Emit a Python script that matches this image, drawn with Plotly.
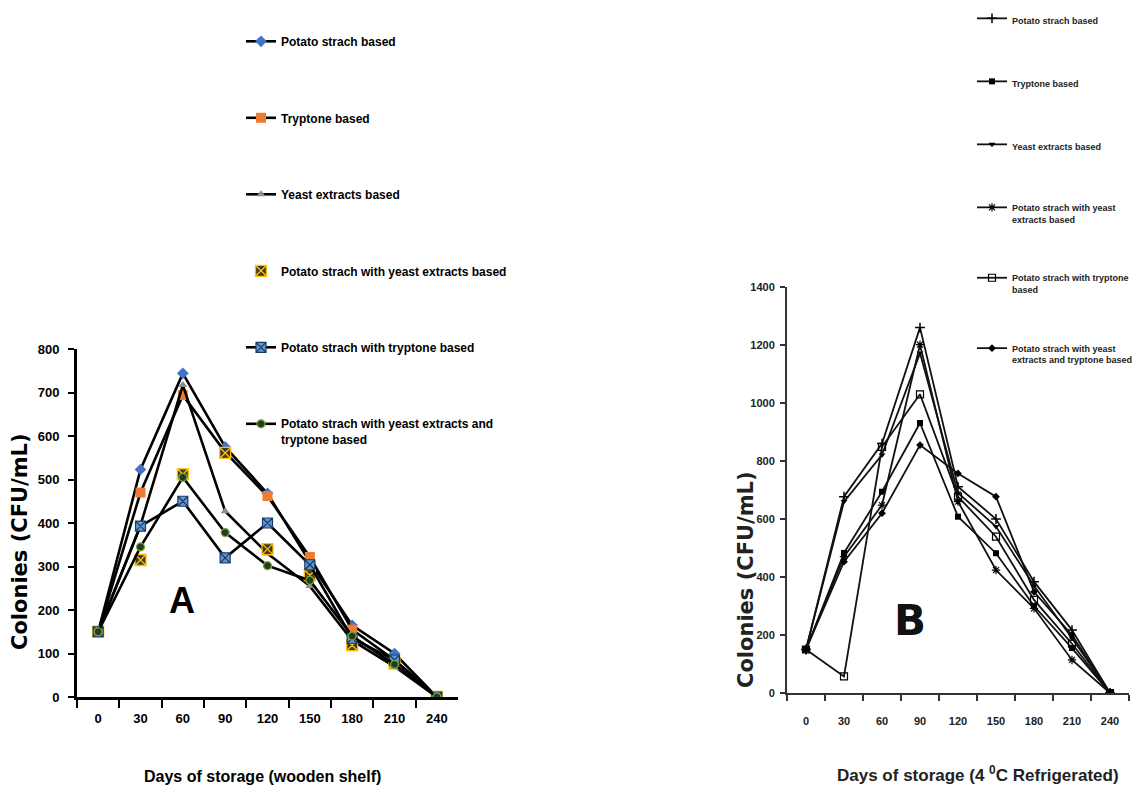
import plotly.graph_objects as go

# Figure is drawn inside the page body (8px default margin), so the figure is
# 16px smaller than the window and positions are given in window pixels.
OFF = 8
W, H = 1145 - 2 * OFF, 794 - 2 * OFF

days = ["0", "30", "60", "90", "120", "150", "180", "210", "240"]

names_a = [
    "Potato strach based",
    "Tryptone based",
    "Yeast extracts based",
    "Potato strach with yeast extracts based",
    "Potato strach with tryptone based",
    "Potato strach with yeast extracts and<br>tryptone based",
]
potato_a = [150, 523, 744, 575, 468, 310, 165, 100, 0]
tryptone_a = [150, 470, 694, 563, 462, 322, 155, 85, 0]
yeast_a = [150, 395, 717, 427, 330, 255, 130, 70, 0]
potato_yeast_a = [150, 315, 512, 561, 340, 280, 119, 77, 0]
potato_tryptone_a = [150, 393, 450, 320, 400, 304, 135, 85, 0]
potato_yeast_tryptone_a = [150, 345, 505, 378, 302, 268, 140, 75, 0]

names_b = [
    "Potato strach based",
    "Tryptone based",
    "Yeast extracts based",
    "Potato strach with yeast<br>extracts based",
    "Potato strach with tryptone<br>based",
    "Potato strach with yeast<br>extracts and tryptone based",
]
potato_b = [150, 677, 860, 1260, 711, 600, 384, 217, 0]
tryptone_b = [150, 483, 694, 931, 608, 482, 300, 155, 0]
yeast_b = [150, 660, 821, 1172, 690, 574, 370, 189, 0]
potato_yeast_b = [150, 470, 648, 1201, 660, 424, 292, 114, 0]
potato_tryptone_b = [150, 57, 849, 1030, 677, 539, 321, 170, 0]
potato_yeast_tryptone_b = [150, 453, 620, 855, 757, 677, 349, 200, 0]

y_ticks_a = [0, 100, 200, 300, 400, 500, 600, 700, 800]
y_ticks_b = [0, 200, 400, 600, 800, 1000, 1200, 1400]

NARROW = "Liberation Sans, Arial, sans-serif"
WIDE = "DejaVu Sans, Verdana, sans-serif"

fig = go.Figure()

series_a = [potato_a, tryptone_a, yeast_a, potato_yeast_a, potato_tryptone_a, potato_yeast_tryptone_a]
styles_a = [
    dict(mode="lines+markers", marker=dict(symbol="diamond", size=9, color="#4472C4", line=dict(width=0))),
    dict(mode="lines+markers", marker=dict(symbol="square", size=10, color="#ED7D31", line=dict(width=0))),
    dict(mode="lines+markers", marker=dict(symbol="triangle-up", size=8, color="#8C8C8C", line=dict(width=0))),
    dict(mode="markers", marker=dict(symbol="square-x", size=11, color="#3B3A2A", line=dict(width=1.3, color="#FFC000"))),
    dict(mode="lines+markers", marker=dict(symbol="square-x", size=10, color="#5B9BD5", line=dict(width=1.2, color="#1F3864"))),
    dict(mode="lines+markers", marker=dict(symbol="circle", size=8, color="#2A3A1C", line=dict(width=1.2, color="#70AD47"))),
]
for i, (ys, st) in enumerate(zip(series_a, styles_a)):
    fig.add_trace(go.Scatter(
        x=days, y=ys, name=names_a[i], xaxis="x", yaxis="y",
        line=dict(color="black", width=2.6), legend="legend",
        legendgroup="a%d" % i, **st))

series_b = [potato_b, tryptone_b, yeast_b, potato_yeast_b, potato_tryptone_b, potato_yeast_tryptone_b]
symbols_b = [
    dict(symbol="cross-thin", size=7, color="black", line=dict(width=1.5, color="black")),
    dict(symbol="square", size=6, color="black"),
    dict(symbol="triangle-down", size=6, color="black"),
    dict(symbol="asterisk", size=7, color="black", line=dict(width=1.2, color="black")),
    dict(symbol="square-open", size=7, color="black", line=dict(width=1.2, color="black")),
    dict(symbol="diamond", size=6, color="black"),
]
for i, (ys, mk) in enumerate(zip(series_b, symbols_b)):
    fig.add_trace(go.Scatter(
        x=days, y=ys, name=names_b[i], xaxis="x2", yaxis="y2",
        mode="lines+markers", marker=mk,
        line=dict(color="#111111", width=1.8), legend="legend2",
        legendgroup="b%d" % i))


def sx(p):
    return (p - OFF) / W


def sy(p):
    return 1 - (p - OFF) / H


axis_common = dict(showgrid=False, zeroline=False, showline=True, ticks="outside", mirror=False)

fig.update_layout(
    width=W, height=H, autosize=False,
    margin=dict(l=0, r=0, t=0, b=0, autoexpand=False),
    paper_bgcolor="white", plot_bgcolor="white",
    xaxis=dict(domain=[sx(77), sx(458)], type="category", range=[-0.5, 8.5],
               tickson="boundaries", ticklen=8, tickwidth=2, tickcolor="black",
               linecolor="black", linewidth=3, anchor="y", ticklabelstandoff=7,
               tickfont=dict(family=NARROW, size=13, color="black", weight="bold"),
               **axis_common),
    yaxis=dict(domain=[sy(697), sy(349)], range=[0, 800], tickvals=y_ticks_a,
               ticklen=6, tickwidth=2, tickcolor="black", linecolor="black", linewidth=3,
               anchor="x", ticklabelstandoff=6,
               tickfont=dict(family=NARROW, size=13, color="black", weight="bold"),
               **axis_common),
    xaxis2=dict(domain=[sx(787), sx(1129)], type="category", range=[-0.5, 8.5],
                tickson="boundaries", ticklen=6, tickwidth=1.5, tickcolor="#333",
                linecolor="#333", linewidth=2, anchor="y2", ticklabelstandoff=17,
                tickfont=dict(family=NARROW, size=11, color="#222", weight="bold"),
                **axis_common),
    yaxis2=dict(domain=[sy(693), sy(287)], range=[0, 1400], tickvals=y_ticks_b,
                ticklen=5, tickwidth=1.5, tickcolor="#333", linecolor="#333", linewidth=2,
                anchor="x2", ticklabelstandoff=3,
                tickfont=dict(family=NARROW, size=11, color="#222", weight="bold"),
                **axis_common),
    legend=dict(x=sx(241), y=sy(27), xanchor="left", yanchor="top",
                bgcolor="rgba(0,0,0,0)", borderwidth=0, tracegroupgap=57.5,
                itemwidth=30, valign="top",
                font=dict(family=NARROW, size=12, color="black", weight="bold")),
    legend2=dict(x=sx(972), y=sy(6), xanchor="left", yanchor="top",
                 bgcolor="rgba(0,0,0,0)", borderwidth=0, tracegroupgap=44,
                 itemwidth=30, valign="top",
                 font=dict(family=NARROW, size=9, color="#222", weight="bold")),
    showlegend=True,
)

annotations = [
    dict(text="Colonies (CFU/mL)", x=sx(20), y=sy(542), textangle=-90,
         font=dict(family=WIDE, size=21, color="black", weight="bold")),
    dict(text="Days of storage (wooden shelf)", x=sx(262), y=sy(776),
         font=dict(family=NARROW, size=16, color="black", weight="bold")),
    dict(text="A", x=sx(182), y=sy(600),
         font=dict(family=NARROW, size=36, color="black", weight="bold")),
    dict(text="Colonies (CFU/mL)", x=sx(746), y=sy(580), textangle=-90,
         font=dict(family=WIDE, size=21, color="#222", weight="bold")),
    dict(text="Days of storage (4 <sup>0</sup>C Refrigerated)", x=sx(978), y=sy(774),
         font=dict(family=NARROW, size=17, color="#222", weight="bold")),
    dict(text="B", x=sx(910), y=sy(620),
         font=dict(family=WIDE, size=42, color="#111", weight="bold")),
]
for a in annotations:
    fig.add_annotation(xref="paper", yref="paper", showarrow=False,
                       xanchor="center", yanchor="middle", **a)

fig.write_html("out.html")
